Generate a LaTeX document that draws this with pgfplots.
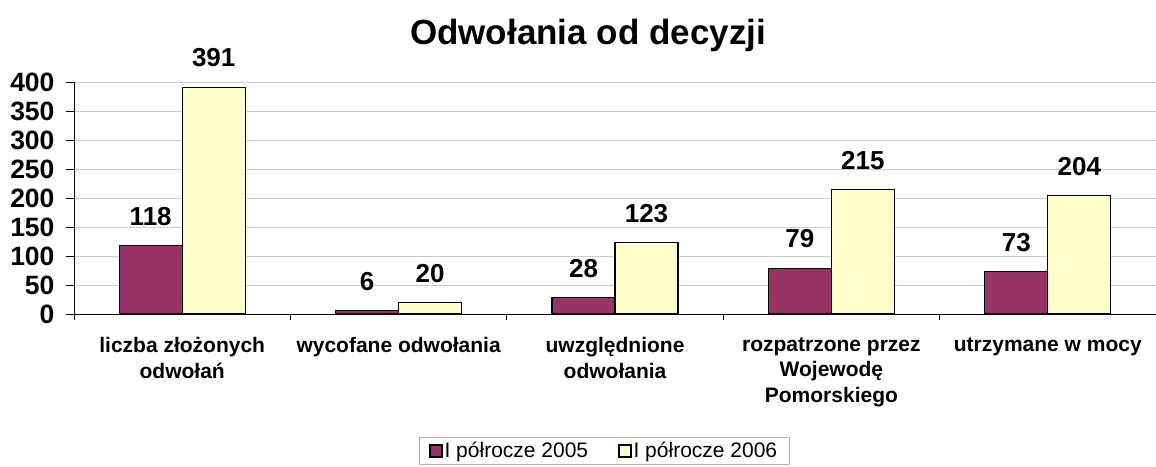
\documentclass[border=0pt]{standalone}
\usepackage{fontspec}
\setmainfont{Liberation Sans}
\usepackage{pgfplots}
\pgfplotsset{compat=1.18}
\definecolor{cA}{HTML}{993366}
\definecolor{cB}{HTML}{FFFFCC}
\begin{document}
\begin{tikzpicture}[x=1pt,y=1pt]
\path[use as bounding box] (0,0) rectangle (1156,466);
\node[font=\fontsize{35}{40}\selectfont\bfseries] at (588,431) {Odwołania od decyzji};
\begin{axis}[
  at={(74pt,152pt)}, anchor=south west,
  scale only axis, width=1082pt, height=232pt,
  ymin=0, ymax=400, xmin=-0.5, xmax=4.5,
  ytick={0,50,...,400},
  ymajorgrids, grid style={gray!40, line width=0.6pt},
  axis x line*=bottom, axis y line*=left,
  axis line style={black, line width=0.8pt},
  separate axis lines,
  x axis line style={-}, y axis line style={-},
  xtick={0,1,2,3,4},
  xticklabels={{liczba złożonych\\odwołań},{wycofane odwołania},{uwzględnione\\odwołania},{rozpatrzone przez\\Wojewodę\\Pomorskiego},{utrzymane w mocy}},
  minor xtick={-0.5,0.5,1.5,2.5,3.5,4.5},
  tick align=outside,
  major x tick style={draw=none},
  minor tick length=6pt, major tick length=8pt,
  tick style={black, line width=0.8pt},
  xticklabel style={font=\fontsize{21}{25.5}\selectfont\bfseries, align=center, yshift=-12pt, anchor=north},
  yticklabel style={font=\fontsize{26.5}{28}\selectfont\bfseries, xshift=-8pt},
  /pgf/number format/assume math mode=true,
  ybar=0pt, bar width=63pt,
  nodes near coords,
  every node near coord/.append style={font=\fontsize{26}{28}\selectfont\bfseries, yshift=16pt},
  legend columns=2,
  legend style={at={(0.49,-0.59)}, anchor=center, draw=gray!60, line width=0.8pt,
    font=\fontsize{21}{24}\selectfont, inner xsep=10pt, inner ysep=3pt,
    /tikz/every even column/.append style={column sep=28pt}},
  legend image code/.code={\draw[#1, draw=black, line width=1.4pt] (1pt,-6pt) rectangle (13pt,6pt);},
]
\addplot[fill=cA, draw=black, line width=1.2pt] coordinates {(0,118) (1,6) (2,28) (3,79) (4,73)};
\addplot[fill=cB, draw=black, line width=1.2pt] coordinates {(0,391) (1,20) (2,123) (3,215) (4,204)};
\legend{I półrocze 2005, I półrocze 2006}
\end{axis}
\end{tikzpicture}
\end{document}
